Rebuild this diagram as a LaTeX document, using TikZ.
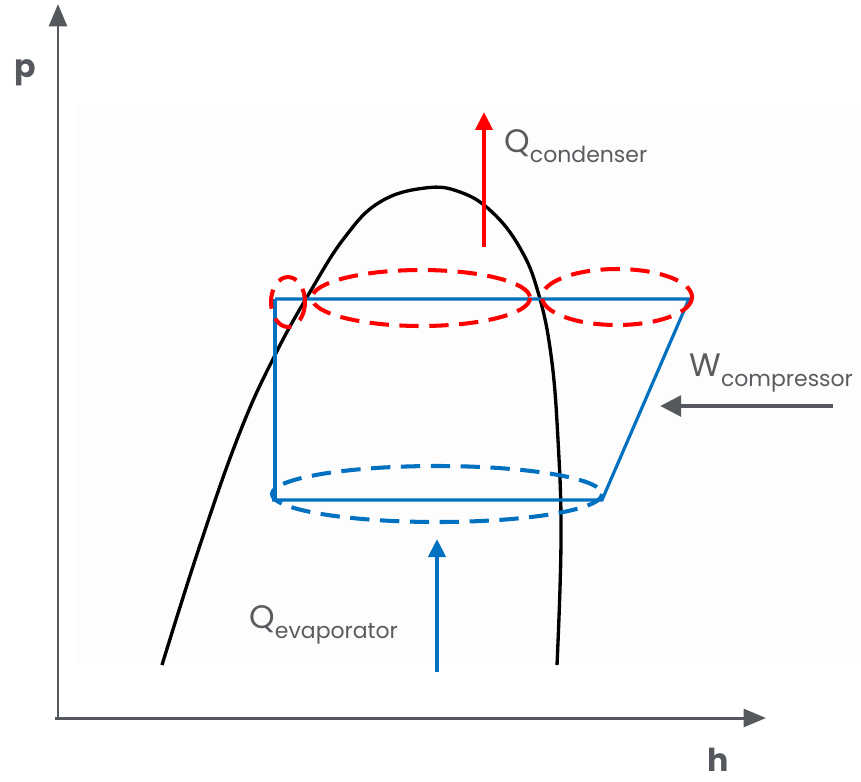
\documentclass[tikz,border=0pt]{standalone}
\usepackage{fontspec}
\setmainfont{Poppins}
\usetikzlibrary{arrows.meta}

\definecolor{axisgray}{RGB}{85,88,92}
\definecolor{textgray}{RGB}{90,92,96}
\definecolor{cycleblue}{RGB}{0,112,192}
\definecolor{heatred}{RGB}{255,0,0}
\definecolor{panel}{RGB}{253,253,253}

\newcommand{\flowlabel}[2]{#1\raisebox{-0.21cm}{\fontsize{12.5}{15}\selectfont #2}}

\begin{document}
\begin{tikzpicture}[
    x=0.02cm, y=-0.02cm,
    axis/.style={draw=axisgray, line width=1.7pt, -{Triangle[length=4.5mm, width=3.6mm]}},
    dome/.style={draw=black, line width=1.9pt},
    cycleline/.style={draw=cycleblue, line width=1.8pt, line join=miter},
    zone/.style={line width=2.3pt, dash pattern=on 11pt off 6pt},
    heatflow/.style={line width=2.3pt, -{Triangle[length=3.6mm, width=3.4mm]}},
    workflow/.style={draw=axisgray, line width=2.8pt, -{Triangle[length=4.2mm, width=4mm]}},
    axislabel/.style={font=\fontsize{18}{20}\selectfont\bfseries, text=axisgray, inner sep=0pt},
    flowtext/.style={font=\fontsize{18.5}{22}\selectfont, text=textgray, inner sep=0pt, anchor=base west}
]
\useasboundingbox (0,0) rectangle (861,781);
\fill[panel] (75,105) rectangle (861,663);

% ==================== Axes ====================
\coordinate (origin) at (58,718);
\coordinate (ptop) at (58,4);
\coordinate (hend) at (766,718);
\draw[axis] (origin) -- (ptop);
\draw[axis] (55,718) -- (hend);
\node[axislabel, anchor=base] (plabel) at (25,77) {p};
\node[axislabel, anchor=base] (hlabel) at (718,771) {h};

% ==================== Saturation dome ====================
\draw[dome] plot[smooth, tension=0.7] coordinates {
  (162,665) (200,545) (240,432) (275,355) (310,292) (345,237)
  (380,202) (425,188) (460,192) (492,212) (520,248) (538,292)
  (551,355) (558,440) (561,540) (557,665)};

% ==================== Cycle ====================
\coordinate (c1) at (275,299);
\coordinate (c2) at (689,299);
\coordinate (c3) at (602,500);
\coordinate (c4) at (272,500);
\coordinate (c5) at (275,500);
\draw[cycleline] (c1) -- (c2) -- (c3) -- (c4);
\draw[cycleline] (c1) -- (c5);

% ==================== Heat exchange zones ====================
\draw[zone, heatred] (288,302) ellipse [x radius=17, y radius=25];
\draw[zone, heatred] (421,298) ellipse [x radius=109, y radius=28];
\draw[zone, heatred] (617,297) ellipse [x radius=75, y radius=28];
\draw[zone, cycleblue] (437,494) ellipse [x radius=165, y radius=28];

% ==================== Energy flows ====================
\coordinate (qcin) at (484,247);
\coordinate (qcout) at (484,112);
\draw[heatflow, heatred] (qcin) -- (qcout);
\node[flowtext] (qcond) at (504,152) {\flowlabel{Q}{condenser}};

\coordinate (wstart) at (833,406);
\coordinate (wend) at (660,406);
\draw[workflow] (wstart) -- (wend);
\node[flowtext] (wcomp) at (689,376) {\flowlabel{W}{compressor}};

\coordinate (qestart) at (437,672);
\coordinate (qeend) at (437,539);
\draw[heatflow, cycleblue] (qestart) -- (qeend);
\node[flowtext] (qevap) at (249,628) {\flowlabel{Q}{evaporator}};

\end{tikzpicture}
\end{document}
